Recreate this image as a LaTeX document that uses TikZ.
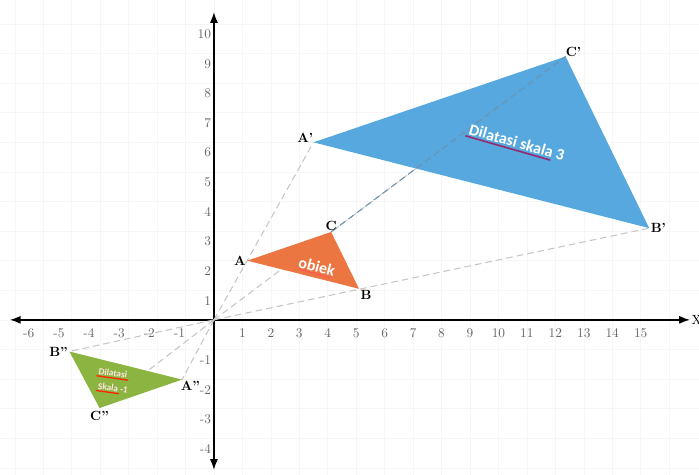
\documentclass[tikz,border=0pt]{standalone}
\usepackage{fontspec}
\newfontfamily\teksfont{Carlito}
\usetikzlibrary{arrows.meta,calc}
\definecolor{biru}{RGB}{86,168,222}
\definecolor{oranye}{RGB}{236,118,66}
\definecolor{hijau}{RGB}{140,180,64}
\definecolor{garis}{RGB}{150,40,110}
\begin{document}
\begin{tikzpicture}[x=0.75cm,y=0.78cm,
  sinar/.style={draw=gray!45, dash pattern=on 5pt off 3pt, line width=0.8pt},
  titik/.style={font=\bfseries, inner sep=1pt},
  angka/.style={text=black!60, inner sep=1pt}]
\useasboundingbox (-7.52,-5.24) rectangle (17.05,10.81);
% grid
\foreach \i in {-7,...,16} \draw[gray!7] (\i,-5.24) -- (\i,10.81);
\foreach \j in {-5,...,10} \draw[gray!7] (-7.52,\j) -- (17.05,\j);
% sumbu
\coordinate (O) at (0,0);
\draw[line width=1pt, -{Latex[length=8pt,width=6pt]}] (O) -- (16.73,0) coordinate (xkanan);
\draw[line width=1pt, -{Latex[length=8pt,width=6pt]}] (O) -- (-7.17,0) coordinate (xkiri);
\draw[line width=1pt, -{Latex[length=8pt,width=6pt]}] (O) -- (0,10.4) coordinate (yatas);
\draw[line width=1pt, -{Latex[length=8pt,width=6pt]}] (O) -- (0,-5.07) coordinate (ybawah);
\node[anchor=west, inner sep=1pt] (X) at (xkanan) {X};
\foreach \i in {1,...,15} \node[angka] (x\i) at (\i,-0.45) {\i};
\foreach \i in {1,...,6} \node[angka] (xm\i) at ({-1.06*\i-0.15},-0.45) {-\i};
\foreach \j in {1,...,10} \node[angka, anchor=east] (y\j) at (-0.05,\j-0.35) {\j};
\foreach \j in {1,...,4} \node[angka, anchor=east] (ym\j) at (-0.05,-\j-0.36) {-\j};
% titik sudut
\coordinate (A) at (1.17,2);
\coordinate (B) at (5.1,1.05);
\coordinate (C) at (4.12,2.97);
\coordinate (A1) at (3.5,6);
\coordinate (B1) at (15.3,3.1);
\coordinate (C1) at (12.36,8.9);
\coordinate (A2) at (-1.12,-2.02);
\coordinate (B2) at (-5.08,-1.07);
\coordinate (C2) at (-4.02,-2.98);
% garis putus-putus dari pusat
\draw[sinar] (O) -- (A1);
\draw[sinar] (O) -- (B1);
\draw[sinar] (O) -- (C1);
\draw[sinar] (O) -- (A2);
\draw[sinar] (O) -- (B2);
\draw[sinar] (O) -- (C2);
% segitiga
\fill[hijau] (A2) -- (B2) -- (C2) -- cycle;
\fill[oranye] (A) -- (B) -- (C) -- cycle;
\fill[biru] (A1) -- (B1) -- (C1) -- cycle;
\draw[sinar, draw=gray!50!biru] (C) -- (C1);
% teks dalam segitiga
\node[rotate=-15, text=white, font=\teksfont\bfseries\large, inner sep=1pt] (obiek) at (3.62,1.8) {obiek};
\draw[red!55!pink, line width=0.8pt] ($(obiek.south west)!0.08!(obiek.south east)$) -- ($(obiek.south west)!0.92!(obiek.south east)$);
\node[rotate=-16, text=white, font=\teksfont\bfseries\large, inner sep=1.5pt] (skala3) at (10.65,6.0) {Dilatasi skala 3};
\draw[garis, line width=1.2pt] (skala3.south west) -- ($(skala3.south west)!0.86!(skala3.south east)$);
\node[rotate=-8, text=pink!40, font=\teksfont\bfseries\scriptsize, inner sep=1pt] (dil) at (-3.55,-1.8) {Dilatasi};
\draw[red!70!orange, line width=1pt] (dil.south west) -- (dil.south east);
\node[rotate=-8, text=pink!40, font=\teksfont\bfseries\scriptsize, inner sep=1pt] (sk) at (-3.55,-2.3) {Skala -1};
\draw[red!70!orange, line width=1pt] (sk.south west) -- ($(sk.south west)!0.7!(sk.south east)$);
% label titik
\node[titik, anchor=east] (lA) at (A) {A};
\node[titik, anchor=south] (lC) at (C) {C};
\node[titik, anchor=north west] (lB) at (B) {B};
\node[titik, anchor=south east, inner sep=0pt] (lA1) at (A1) {A'};
\node[titik, anchor=south west, inner sep=0pt] (lC1) at (C1) {C'};
\node[titik, anchor=west] (lB1) at (B1) {B'};
\node[titik, anchor=east] (lB2) at (B2) {B''};
\node[titik, anchor=north west] (lA2) at ($(A2)+(-0.1,0)$) {A''};
\node[titik, anchor=north] (lC2) at ($(C2)+(0,-0.05)$) {C''};
\end{tikzpicture}
\end{document}
